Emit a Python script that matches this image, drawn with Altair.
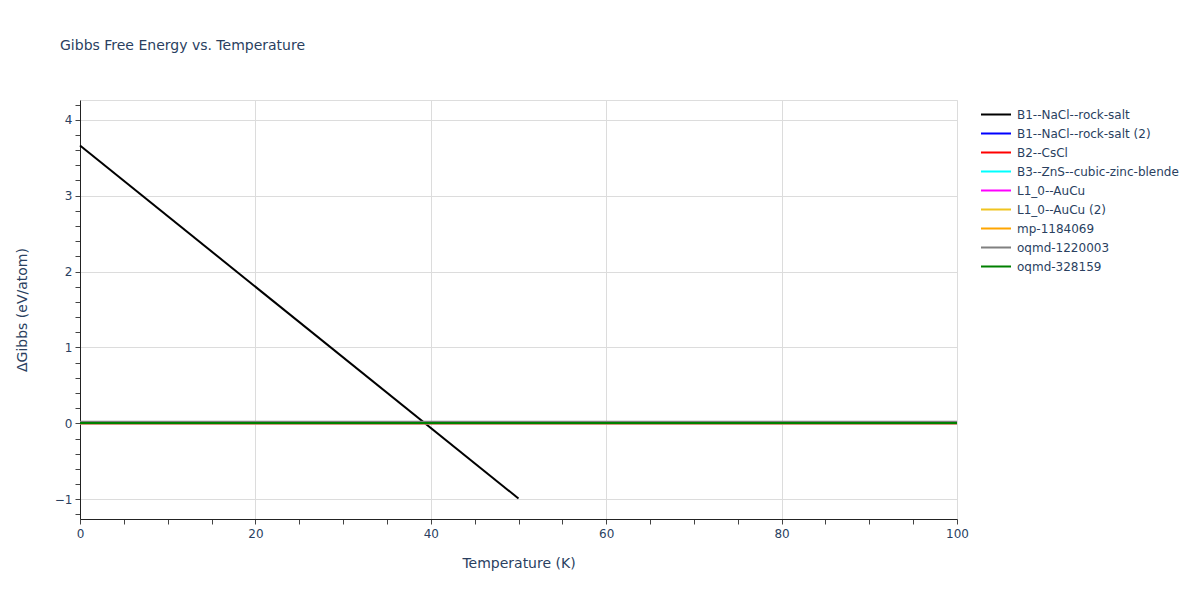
import altair as alt
import pandas as pd

series_names = [
    "B1--NaCl--rock-salt",
    "B1--NaCl--rock-salt (2)",
    "B2--CsCl",
    "B3--ZnS--cubic-zinc-blende",
    "L1_0--AuCu",
    "L1_0--AuCu (2)",
    "mp-1184069",
    "oqmd-1220003",
    "oqmd-328159",
]
series_colors = ["black", "blue", "red", "cyan", "magenta", "#f0c420", "orange", "gray", "green"]

temps_b1 = [0, 50]
gibbs_b1 = [3.66, -0.99]
temps_flat = [0, 100]
gibbs_flat = {
    "B1--NaCl--rock-salt (2)": [0.0, 0.0],
    "B2--CsCl": [0.0, 0.0],
    "B3--ZnS--cubic-zinc-blende": [0.0, 0.0],
    "L1_0--AuCu": [0.0, 0.0],
    "L1_0--AuCu (2)": [0.0, 0.0],
    "mp-1184069": [0.0, 0.0],
    "oqmd-1220003": [0.02, 0.02],
    "oqmd-328159": [0.005, 0.005],
}

rows = []
for i, (t, g) in enumerate(zip(temps_b1, gibbs_b1)):
    rows.append({"series": series_names[0], "T": t, "G": g, "order": 0, "i": i})
for k, name in enumerate(series_names[1:], start=1):
    for i, (t, g) in enumerate(zip(temps_flat, gibbs_flat[name])):
        rows.append({"series": name, "T": t, "G": g, "order": k, "i": i})
df = pd.DataFrame(rows)

x_vals = list(range(0, 101, 5))
y_vals = [round(-1.2 + 0.2 * i, 1) for i in range(28)]

font = "DejaVu Sans"
txt = "#2a3f5f"

chart = alt.Chart(df).mark_line(strokeWidth=2).encode(
    x=alt.X("T:Q", title="Temperature (K)",
            scale=alt.Scale(domain=[0, 100], nice=False, zero=False),
            axis=alt.Axis(values=x_vals, labelFlush=False,
                          labelExpr="datum.value % 20 === 0 ? format(datum.value, 'd') : ''",
                          gridColor={"condition": {"test": "datum.value % 20 === 0", "value": "#dcdcdc"}, "value": "rgba(0,0,0,0)"},
                          tickSize=5, tickColor="#444", domainColor="#222",
                          labelFontSize=12, labelColor=txt, labelFont=font, labelPadding=4,
                          titleFontSize=14, titleColor=txt, titleFont=font, titleFontWeight="normal",
                          titlePadding=17)),
    y=alt.Y("G:Q", title="ΔGibbs (eV/atom)",
            scale=alt.Scale(domain=[-1.26, 4.26], nice=False, zero=False),
            axis=alt.Axis(values=y_vals,
                          labelExpr="abs(datum.value - round(datum.value)) < 1e-6 ? format(round(datum.value), 'd') : ''",
                          gridColor={"condition": {"test": "abs(datum.value - round(datum.value)) < 1e-6", "value": "#dcdcdc"}, "value": "rgba(0,0,0,0)"},
                          tickSize=5, tickColor="#444", domainColor="#222",
                          labelFontSize=12, labelColor=txt, labelFont=font, labelPadding=3,
                          titleFontSize=14, titleColor=txt, titleFont=font, titleFontWeight="normal",
                          titlePadding=25)),
    color=alt.Color("series:N", title=None,
                    scale=alt.Scale(domain=series_names, range=series_colors),
                    legend=alt.Legend(orient="none", legendX=900, legendY=7,
                                      symbolType="stroke", symbolSize=900, symbolStrokeWidth=2,
                                      labelFontSize=12, labelColor=txt, labelFont=font, labelLimit=400,
                                      clipHeight=15, rowPadding=4, labelOffset=5)),
    order=alt.Order("i:Q"),
).properties(
    width=877, height=419,
    title=alt.TitleParams("Gibbs Free Energy vs. Temperature", anchor="start", frame="group", dx=-20,
                          offset=47, fontSize=14, font=font, color=txt, fontWeight="normal"),
    autosize=alt.AutoSizeParams(type="none"),
    padding={"left": 72, "top": 92, "right": 235, "bottom": 72},
).configure_view(stroke="transparent", strokeWidth=0).configure(background="white")

chart.save("out.html", embed_options={"renderer": "svg", "actions": False})
